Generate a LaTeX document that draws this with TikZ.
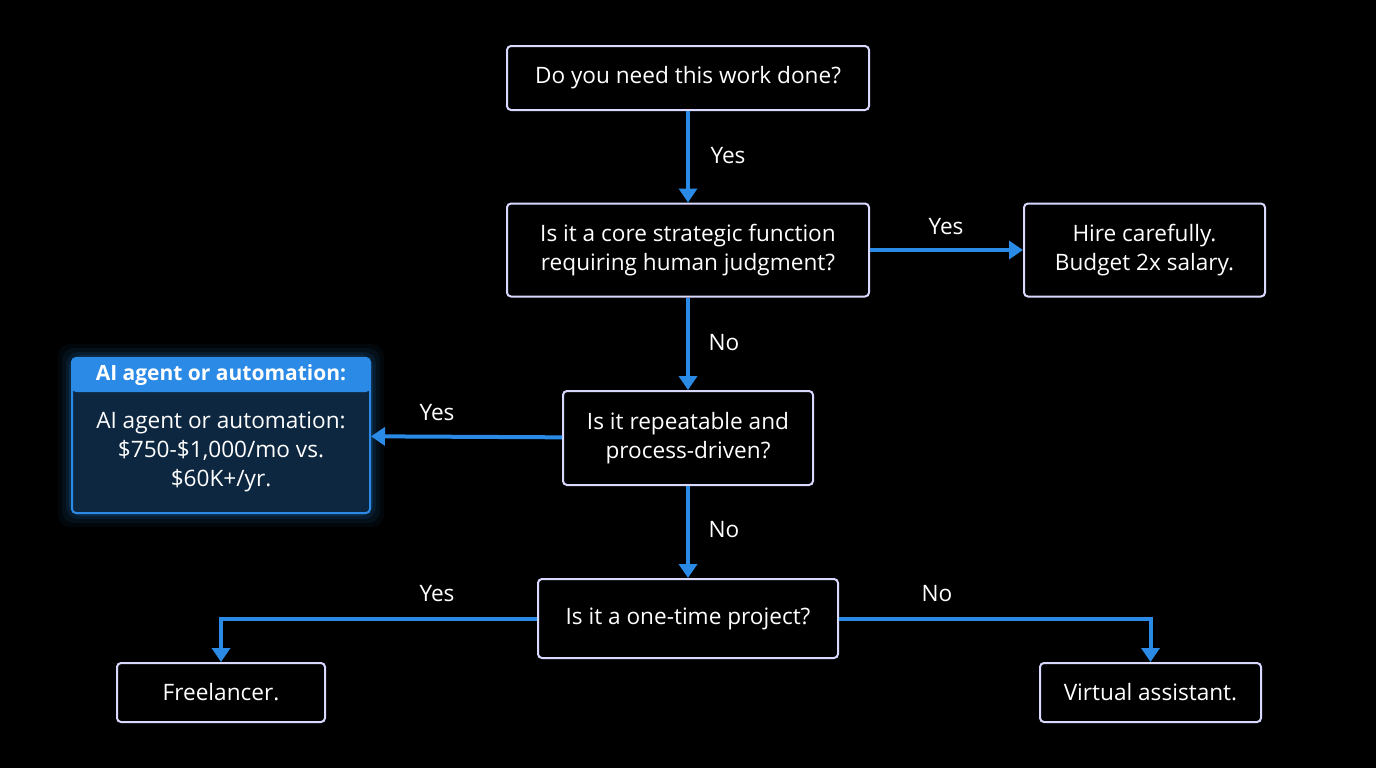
\documentclass[tikz,border=0pt]{standalone}
\usepackage{fontspec}
\setmainfont{Open Sans}
\usetikzlibrary{arrows.meta}
\definecolor{ab}{HTML}{2A8AE6}
\definecolor{boxfill}{HTML}{0E2740}
\begin{document}
\begin{tikzpicture}[x=0.5pt,y=-0.5pt,
  box/.style={draw=white!85!blue, line width=1pt, rounded corners=2pt, align=center, text=white, inner sep=0pt, font=\fontsize{11.3}{14.5}\selectfont},
  arr/.style={draw=ab, line width=2pt, -{Triangle[length=7pt,width=9pt]}},
  lab/.style={text=white, font=\fontsize{11.3}{14}\selectfont}]
\fill[black] (0,0) rectangle (1376,768);
\useasboundingbox (0,0) rectangle (1376,768);
\node[box, minimum width=181pt, minimum height=32pt] (q1) at (688,78) {Do you need this work done?};
\node[box, minimum width=181pt, minimum height=46.5pt] (q2) at (688,250) {Is it a core strategic function\\requiring human judgment?};
\node[box, minimum width=120.5pt, minimum height=46.5pt] (hire) at (1144.5,250) {Hire carefully.\\Budget 2x salary.};
\node[box, minimum width=125pt, minimum height=47pt] (q3) at (688,438) {Is it repeatable and\\process-driven?};
\node[box, minimum width=150pt, minimum height=39.5pt] (q4) at (688,618.5) {Is it a one-time project?};
\node[box, minimum width=104pt, minimum height=29.5pt] (free) at (221,692.5) {Freelancer.};
\node[box, minimum width=110.5pt, minimum height=29.5pt] (va) at (1150.5,692.5) {Virtual assistant.};
% glow
\foreach \i/\o in {14/0.05,10/0.07,6/0.1,3/0.14}{
  \fill[ab, opacity=\o, rounded corners=6pt] (72-\i,358-\i) rectangle (370+\i,513+\i);}
\node[box, draw=ab, fill=boxfill, minimum width=149pt, minimum height=77.5pt] (ai) at (221,435.5) {};
\fill[ab, rounded corners=2pt] (72,358) rectangle (370,392);
\node[text=white, font=\bfseries\fontsize{10.5}{13}\selectfont] (aih) at (221,375) {AI agent or automation:};
\node[box, draw=none] (aib) at (221,452) {AI agent or automation:\\\$750-\$1,000/mo vs.\\\$60K+/yr.};
\draw[arr] (q1) -- (q2);
\draw[arr] (q2) -- (hire);
\draw[arr] (q2) -- (q3);
\draw[arr] (q3) -- (ai);
\draw[arr] (q3) -- (q4);
\draw[arr] (q4.west) -| (free.north);
\draw[arr] (q4.east) -| (va.north);
\node[lab] at (728,156) {Yes};
\node[lab] at (946,227) {Yes};
\node[lab] at (724,343) {No};
\node[lab] at (437,413) {Yes};
\node[lab] at (724,530) {No};
\node[lab] at (437,594) {Yes};
\node[lab] at (937,594) {No};
\end{tikzpicture}
\end{document}
